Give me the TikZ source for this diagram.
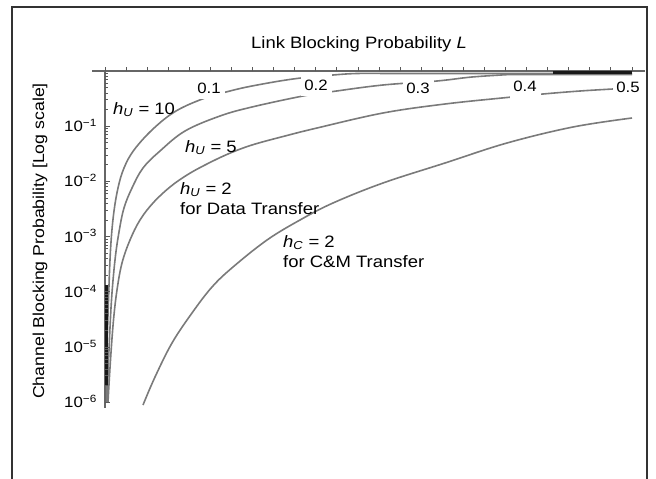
\documentclass[tikz,border=0pt]{standalone}
\usepackage{fontspec}
\setmainfont{Liberation Sans}[FakeStretch=1.12]
\newcommand{\hops}[1]{\textit{h}\textsubscript{\textit{#1}}}

\begin{document}
\begin{tikzpicture}[
  x=1pt, y=-1pt,
  font=\fontsize{16.5}{20}\selectfont,
  frame/.style={draw=black!80, line width=1.1pt},
  axis/.style={draw=black!60, line width=2pt},
  tick/.style={draw=black!65, line width=0.9pt},
  curve/.style={draw=black!52, line width=1.6pt, line join=round},
  merged/.style={draw=black!90, line width=3pt},
  tlab/.style={fill=white, inner sep=0pt, minimum width=31pt, minimum height=22pt,
               font=\fontsize{15}{18}\selectfont},
  ylab/.style={anchor=base east, inner sep=0pt, font=\fontsize{15}{18}\selectfont},
  clab/.style={anchor=north west, inner sep=0pt, align=left},
]

\def\Ox{105}    % L = 0
\def\Oy{71}     % p = 10^0
\def\Dx{21.08}  % px per 0.02 of L
\def\Dy{55.2}   % px per decade

\useasboundingbox (0,0) rectangle (656,479);
\draw[frame] (12,479) -- (12,7) -- (647,7) -- (647,479);

% ---- curves ----
\draw[curve] plot[smooth, tension=0.6] coordinates {
  (106,402) (107,350) (108.5,300) (110.5,250) (113.5,215) (118,188) (124,168)
  (134,150) (153,129) (176,111) (205,98) (228,91.5) (252,86) (293,79) (333,75)
  (357,73.5) (385,73.5)} -- (632,73.5);
\draw[curve] plot[smooth, tension=0.6] coordinates {
  (107,402) (109,350) (111.5,300) (115,260) (119,232) (124,208) (132,188)
  (143,168) (160,151) (185,131) (220,116) (252,107) (303,96) (333,91.5)
  (383,85) (437,81) (472,77) (510,74.5)} -- (632,74.5);
\draw[curve] plot[smooth, tension=0.6] coordinates {
  (108,402) (110.5,360) (113.5,320) (117,290) (122,263) (130,240) (140,220)
  (153,203) (170,187) (187,175) (205,165) (228,154) (252,145) (285,136)
  (317,128) (383,113) (445,104) (507,97.5) (543,94) (580,91) (613,89)};
\draw[curve] plot[smooth, tension=0.6] coordinates {
  (143,405) (155,377) (172,343) (192,313) (212,287) (233,267) (267,240)
  (300,220) (333,203) (383,183) (445,163) (507,143) (573,127) (632,118)};

% ---- axes ----
\draw[axis] (92,\Oy) -- (645,\Oy);
\draw[axis] (\Ox,\Oy) -- (\Ox,408);
\draw[merged] (553,72) -- (632,72);
\draw[merged] (106,285) -- (106,385);

\foreach \k in {0,...,25}
  \draw[tick] ({\Ox+\Dx*\k},\Oy) -- ++(0,-4);
\foreach \n in {0,...,5}{
  \foreach \m in {2,...,9}
    \draw[tick] (\Ox,{\Oy+\Dy*(\n+1-log10(\m))}) -- ++(3,0);
  \draw[tick] (\Ox,{\Oy+\Dy*(\n+1)}) -- ++(5,0);
}

\foreach \n in {1,...,6}
  \node[ylab] (ly\n) at (97,{\Oy+\Dy*\n+5.5}) {10\textsuperscript{−\n}};

\foreach \v/\px/\py [count=\i] in {0.1/209/88, 0.2/316/85, 0.3/418/88,
                                   0.4/525/86.5, 0.5/628/87}
  \node[tlab] (lt\i) at (\px,\py) {\v};

% ---- titles ----
\node[anchor=base] (title) at (359,48) {Link Blocking Probability \textit{L}};
\node[rotate=90, font=\fontsize{15.8}{18}\selectfont] (ytitle) at (40,241)
  {Channel Blocking Probability [Log scale]};

% ---- curve labels ----
\node[clab] (hU10) at (113,102) {\hops{U} = 10};
\node[clab] (hU5)  at (185,140) {\hops{U} = 5};
\node[clab] (hU2)  at (180,182) {\hops{U} = 2\\for Data Transfer};
\node[clab] (hC2)  at (283,235) {\hops{C} = 2\\for C\&M Transfer};
\end{tikzpicture}
\end{document}
